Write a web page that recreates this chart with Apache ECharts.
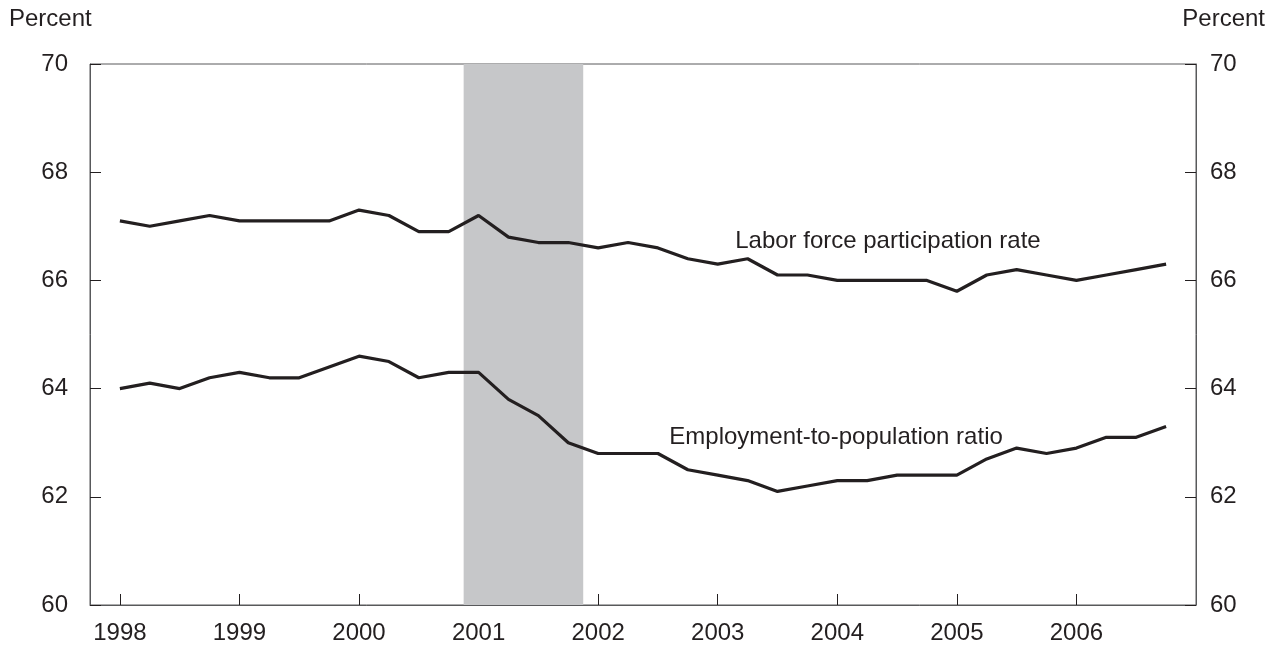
<!DOCTYPE html>
<html>
<head>
<meta charset="utf-8">
<script src="https://cdn.jsdelivr.net/npm/echarts@6/dist/echarts.min.js"></script>
<style>
html,body{margin:0;padding:0;background:#fff;}
#chart{width:1276px;height:645px;}
</style>
</head>
<body>
<div id="chart"></div>
<script>
// Quarterly observations, 1998Q1 - 2006Q4
var quarters = [
  '1998Q1','1998Q2','1998Q3','1998Q4','1999Q1','1999Q2','1999Q3','1999Q4',
  '2000Q1','2000Q2','2000Q3','2000Q4','2001Q1','2001Q2','2001Q3','2001Q4',
  '2002Q1','2002Q2','2002Q3','2002Q4','2003Q1','2003Q2','2003Q3','2003Q4',
  '2004Q1','2004Q2','2004Q3','2004Q4','2005Q1','2005Q2','2005Q3','2005Q4',
  '2006Q1','2006Q2','2006Q3','2006Q4'
];
var laborForceParticipation = [
  67.1, 67.0, 67.1, 67.2, 67.1, 67.1, 67.1, 67.1,
  67.3, 67.2, 66.9, 66.9, 67.2, 66.8, 66.7, 66.7,
  66.6, 66.7, 66.6, 66.4, 66.3, 66.4, 66.1, 66.1,
  66.0, 66.0, 66.0, 66.0, 65.8, 66.1, 66.2, 66.1,
  66.0, 66.1, 66.2, 66.3
];
var employmentToPopulation = [
  64.0, 64.1, 64.0, 64.2, 64.3, 64.2, 64.2, 64.4,
  64.6, 64.5, 64.2, 64.3, 64.3, 63.8, 63.5, 63.0,
  62.8, 62.8, 62.8, 62.5, 62.4, 62.3, 62.1, 62.2,
  62.3, 62.3, 62.4, 62.4, 62.4, 62.7, 62.9, 62.8,
  62.9, 63.1, 63.1, 63.3
];
var yearTicks = [1998, 1999, 2000, 2001, 2002, 2003, 2004, 2005, 2006];
var recession = ['2001Q1', '2001Q4'];

function qToNum(q) {
  return parseInt(q.slice(0, 4), 10) + (parseInt(q.slice(5), 10) - 1) / 4;
}
function pairs(vals) {
  return quarters.map(function (q, i) { return [qToNum(q), vals[i]]; });
}

var FONT = 'Liberation Sans, Arial, sans-serif';
var TEXT = '#231f20';
var LINE = '#231f20';
var AXIS = '#58595b';
var FS = 24;

var chart = echarts.init(document.getElementById('chart'), null, {renderer: 'canvas'});

function yAxisCfg(pos, margin) {
  return {
    type: 'value', position: pos, min: 60, max: 70, interval: 2,
    axisLine: {show: true, lineStyle: {color: AXIS, width: 1}},
    axisTick: {show: true, inside: true, length: 11, lineStyle: {color: TEXT, width: 1}},
    axisLabel: {margin: margin, color: TEXT, fontFamily: FONT, fontSize: FS},
    splitLine: {show: false}
  };
}

var option = {
  animation: false,
  backgroundColor: '#fff',
  grid: {left: 90, right: 80, top: 64, bottom: 40, show: true, borderColor: AXIS, borderWidth: 1, backgroundColor: 'transparent'},
  xAxis: {
    type: 'value', min: 1997.75, max: 2007,
    axisLine: {show: true, onZero: false, lineStyle: {color: AXIS, width: 1}},
    axisTick: {show: true, inside: true, length: 11, customValues: yearTicks, lineStyle: {color: TEXT, width: 1}},
    axisLabel: {show: true, customValues: yearTicks, margin: 16, color: TEXT, fontFamily: FONT, fontSize: FS,
      formatter: function (v) { return String(Math.round(v)); }},
    splitLine: {show: false}
  },
  yAxis: [yAxisCfg('left', 22), yAxisCfg('right', 14)],
  graphic: [
    {type: 'text', left: 9, top: 7, style: {text: 'Percent', fill: TEXT, font: FS + 'px ' + FONT}},
    {type: 'text', right: 11, top: 7, style: {text: 'Percent', fill: TEXT, font: FS + 'px ' + FONT}}
  ],
  series: [
    {
      type: 'line', name: 'Labor force participation rate',
      data: pairs(laborForceParticipation), symbol: 'none',
      lineStyle: {color: LINE, width: 3.2}, z: 3,
      markArea: {
        silent: true, z: 1,
        itemStyle: {color: '#c6c7c9'},
        data: [[{xAxis: qToNum(recession[0]) - 0.125}, {xAxis: qToNum(recession[1]) + 0.125}]]
      },
      markPoint: {
        symbol: 'circle', symbolSize: 0, silent: true,
        label: {show: true, position: 'right', distance: 0, formatter: 'Labor force participation rate',
          color: TEXT, fontFamily: FONT, fontSize: FS},
        data: [{coord: [2003.146, 66.73]}]
      }
    },
    {
      type: 'line', name: 'Employment-to-population ratio',
      data: pairs(employmentToPopulation), symbol: 'none',
      lineStyle: {color: LINE, width: 3.2}, z: 3,
      markPoint: {
        symbol: 'circle', symbolSize: 0, silent: true,
        label: {show: true, position: 'right', distance: 0, formatter: 'Employment-to-population ratio',
          color: TEXT, fontFamily: FONT, fontSize: FS},
        data: [{coord: [2002.595, 63.09]}]
      }
    }
  ]
};
chart.setOption(option);
</script>
</body>
</html>
